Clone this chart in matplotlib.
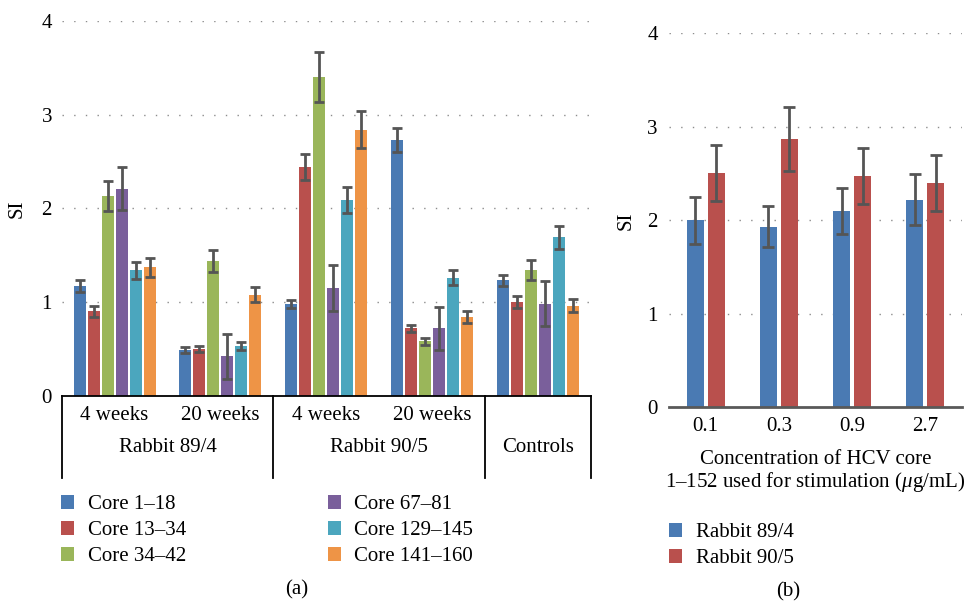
import numpy as np
import matplotlib
matplotlib.use("Agg")
import matplotlib.pyplot as plt
from matplotlib.patches import Patch

plt.rcParams["font.family"] = ["Liberation Serif", "DejaVu Serif"]
plt.rcParams["font.size"] = 15
plt.rcParams["mathtext.fontset"] = "custom"
plt.rcParams["mathtext.rm"] = "Liberation Serif"
plt.rcParams["mathtext.it"] = "Liberation Serif:italic"

# Panel (a) data
core_labels = ["Core 1\u201318", "Core 13\u201334", "Core 34\u201342",
               "Core 67\u201381", "Core 129\u2013145", "Core 141\u2013160"]
week_labels = ["4 weeks", "20 weeks", "4 weeks", "20 weeks", ""]
rabbit_labels = ["Rabbit 89/4", "Rabbit 90/5", "Controls"]
si_core1 = [1.17, 0.49, 0.98, 2.73, 1.23]
si_core13 = [0.90, 0.50, 2.44, 0.72, 1.00]
si_core34 = [2.13, 1.44, 3.40, 0.58, 1.34]
si_core67 = [2.21, 0.42, 1.15, 0.72, 0.98]
si_core129 = [1.34, 0.53, 2.09, 1.26, 1.69]
si_core141 = [1.37, 1.08, 2.84, 0.84, 0.96]
err_core1 = [0.06, 0.03, 0.04, 0.13, 0.06]
err_core13 = [0.06, 0.03, 0.14, 0.04, 0.06]
err_core34 = [0.16, 0.12, 0.27, 0.04, 0.11]
err_core67 = [0.23, 0.24, 0.25, 0.23, 0.24]
err_core129 = [0.09, 0.04, 0.14, 0.08, 0.12]
err_core141 = [0.10, 0.08, 0.20, 0.06, 0.07]

# Panel (b) data
conc_labels = ["0.1", "0.3", "0.9", "2.7"]
si_r89 = [2.00, 1.93, 2.10, 2.22]
err_r89 = [0.25, 0.22, 0.25, 0.27]
si_r90 = [2.51, 2.87, 2.47, 2.40]
err_r90 = [0.30, 0.34, 0.30, 0.30]

core_colors = ["#4A7AB3", "#B9504D", "#9AB65A", "#7A5F9B", "#4BA6BE", "#EE9446"]
err_color = "#555555"
grid_style = dict(color="#8c8c8c", linestyle=(0, (1, 7.4)), linewidth=1.0)

W, H = 965, 602
fig = plt.figure(figsize=(W / 100, H / 100), dpi=100)


def px_axes(left, right, top, bottom):
    return fig.add_axes([left / W, 1 - bottom / H, (right - left) / W, (bottom - top) / H])


# ---------- Panel (a) ----------
ax = px_axes(61.7, 590.7, 21, 395.7)
all_si = [si_core1, si_core13, si_core34, si_core67, si_core129, si_core141]
all_err = [err_core1, err_core13, err_core34, err_core67, err_core129, err_core141]
x = np.arange(len(week_labels))
step, width = 0.1324, 0.113
for i, (vals, errs) in enumerate(zip(all_si, all_err)):
    ax.bar(x + (i - 2.5) * step, vals, width, color=core_colors[i], zorder=2,
           yerr=errs, error_kw=dict(ecolor=err_color, elinewidth=2, capsize=3.8, capthick=2))

ax.set_xlim(-0.5, 4.5)
ax.set_ylim(0, 4)
ax.set_yticks([0, 1, 2, 3, 4])
for v in [1, 2, 3, 4]:
    ax.axhline(v, zorder=0, **grid_style)
for s in ["top", "right", "left"]:
    ax.spines[s].set_visible(False)
ax.spines["bottom"].set_color("black")
ax.spines["bottom"].set_linewidth(1.3)
ax.set_xticks([])
ax.tick_params(axis="y", length=0, pad=7)
ax.set_ylabel("SI")
ax.yaxis.set_label_coords(-0.066, 0.5)

# multi-level category axis
ah = 395.7 - 21
trans = ax.get_xaxis_transform()
for xv in [-0.5, 1.5, 3.5, 4.5]:
    ax.plot([xv, xv], [0, -82 / ah], color="black", lw=1.3, transform=trans, clip_on=False)
for xi, lab in enumerate(week_labels):
    ax.text(xi, -20 / ah, lab, transform=trans, ha="center", va="center")
for xc, lab in zip([0.5, 2.5, 4.0], rabbit_labels):
    ax.text(xc, -52 / ah, lab, transform=trans, ha="center", va="center")

handles_a = [Patch(facecolor=c, label=l) for c, l in zip(core_colors, core_labels)]
fig.legend(handles=handles_a, ncol=2, loc="upper left",
           bbox_to_anchor=(61 / W, 1 - 495 / H), frameon=False, borderpad=0,
           handlelength=0.625, handleheight=0.625, handletextpad=0.66,
           labelspacing=0.33, columnspacing=6.8, borderaxespad=0)
fig.text(297 / W, 1 - 590 / H, "(a)", ha="center", va="center")

# ---------- Panel (b) ----------
bx = px_axes(669, 962, 33.3, 407.3)
xb = np.arange(len(conc_labels))
bx.bar(xb - 0.143, si_r89, 0.232, color=core_colors[0], zorder=2, yerr=err_r89,
       error_kw=dict(ecolor=err_color, elinewidth=2, capsize=4.3, capthick=2))
bx.bar(xb + 0.143, si_r90, 0.232, color=core_colors[1], zorder=2, yerr=err_r90,
       error_kw=dict(ecolor=err_color, elinewidth=2, capsize=4.3, capthick=2))
bx.set_xlim(-0.5, 3.5)
bx.set_ylim(0, 4)
bx.set_yticks([0, 1, 2, 3, 4])
bx.set_xticks(xb)
bx.set_xticklabels(conc_labels)
for v in [1, 2, 3, 4]:
    bx.axhline(v, zorder=0, **grid_style)
for s in ["top", "right", "left"]:
    bx.spines[s].set_visible(False)
bx.spines["bottom"].set_color("#595959")
bx.spines["bottom"].set_linewidth(2)
bx.tick_params(axis="y", length=0, pad=8)
bx.tick_params(axis="x", length=0, pad=7)
bx.set_ylabel("SI")
bx.yaxis.set_label_coords(-0.115, 0.5)
bx.set_xlabel("Concentration of HCV core\n1\u2013152 used for stimulation ($\\mathit{\\mu}$g/mL)",
              linespacing=1.05, labelpad=10)

handles_b = [Patch(facecolor=core_colors[0], label="Rabbit 89/4"),
             Patch(facecolor=core_colors[1], label="Rabbit 90/5")]
fig.legend(handles=handles_b, loc="upper left",
           bbox_to_anchor=(669 / W, 1 - 523 / H), frameon=False, borderpad=0,
           handlelength=0.625, handleheight=0.625, handletextpad=0.66,
           labelspacing=0.33, borderaxespad=0)
fig.text(788 / W, 1 - 592 / H, "(b)", ha="center", va="center")

fig.savefig("out.png", dpi=100)
